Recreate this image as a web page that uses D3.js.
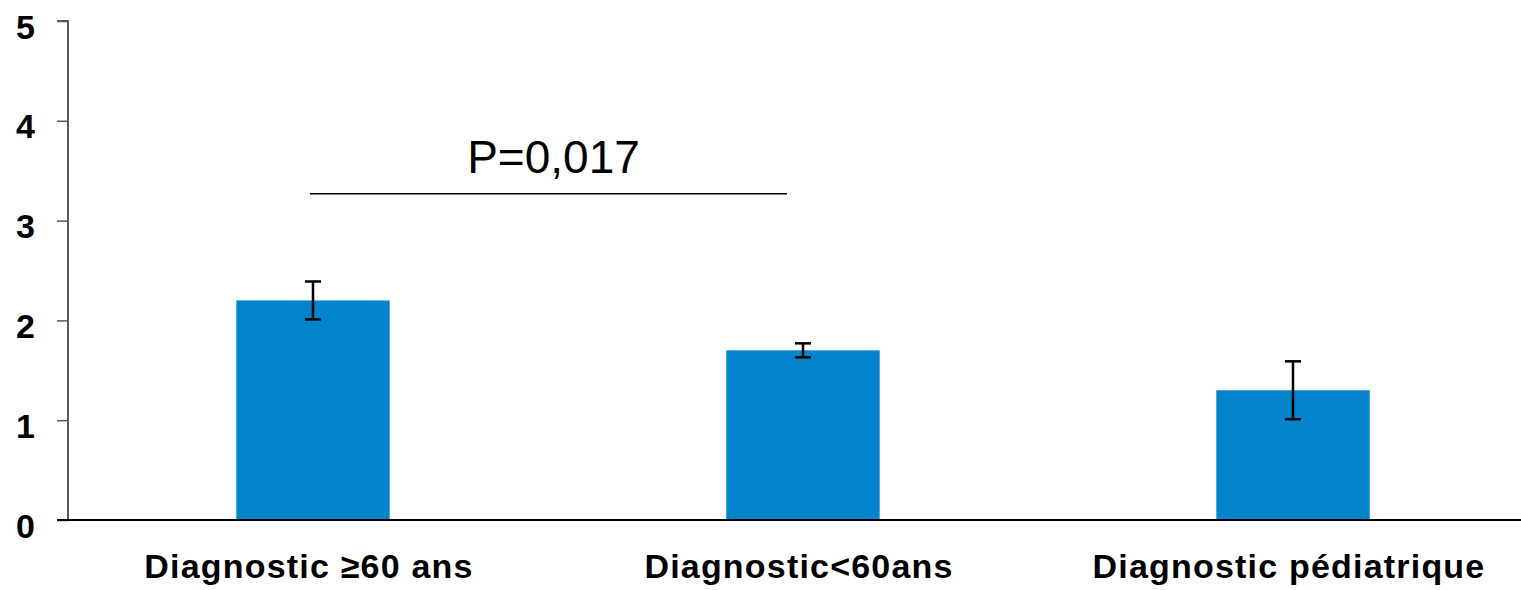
<!DOCTYPE html>
<html>
<head>
<meta charset="utf-8">
<script src="https://cdn.jsdelivr.net/npm/d3@7/dist/d3.min.js"></script>
<style>
  html, body { margin: 0; padding: 0; background: #fff; }
  svg { display: block; }
</style>
</head>
<body>
<svg id="chart" width="1521" height="590"></svg>
<script>
const categories = ["Diagnostic \u226560 ans", "Diagnostic<60ans", "Diagnostic p\u00e9diatrique"];
const values = [2.2, 1.7, 1.3];
const errors = [0.19, 0.07, 0.29];
const yTicks = [0, 1, 2, 3, 4, 5];
const pValueLabel = "P=0,017";
const pValueLevel = 3.27;

const svg = d3.select("#chart");
const x0 = 68, x1 = 1538, yTop = 21, yBot = 520;

const x = d3.scaleBand().domain(categories).range([x0, x1]).paddingInner(0).paddingOuter(0);
const y = d3.scaleLinear().domain([0, 5]).range([yBot, yTop]);
const barW = x.bandwidth() * 0.313;
const cx = d => x(d) + x.bandwidth() / 2;

// bars
svg.append("g").selectAll("rect").data(categories).join("rect")
  .attr("x", d => cx(d) - barW / 2)
  .attr("y", (d, i) => y(values[i]))
  .attr("width", barW)
  .attr("height", (d, i) => y(0) - y(values[i]))
  .attr("fill", "#0284CC");

// error bars
const eg = svg.append("g").attr("stroke", "#000").attr("stroke-width", 2.5);
categories.forEach((c, i) => {
  const xc = cx(c);
  eg.append("line").attr("x1", xc).attr("x2", xc).attr("y1", y(values[i] + errors[i])).attr("y2", y(values[i] - errors[i]));
  eg.append("line").attr("x1", xc - 8).attr("x2", xc + 8).attr("y1", y(values[i] + errors[i])).attr("y2", y(values[i] + errors[i]));
  eg.append("line").attr("x1", xc - 8).attr("x2", xc + 8).attr("y1", y(values[i] - errors[i])).attr("y2", y(values[i] - errors[i]));
});

// y axis
const yAxis = svg.append("g").attr("transform", `translate(${x0},0)`)
  .call(d3.axisLeft(y).tickValues(yTicks).tickFormat(d3.format("d")).tickSize(11).tickPadding(22));
yAxis.select(".domain").attr("stroke", "#595959").attr("stroke-width", 2).attr("d", `M-11,${yTop}H0V${yBot}`);
yAxis.selectAll(".tick line").attr("stroke", "#595959").attr("stroke-width", 1.5);
yAxis.selectAll(".tick text")
  .attr("font-family", "'Liberation Sans', Arial, sans-serif")
  .attr("font-weight", "bold").attr("font-size", 34).attr("fill", "#000")
  .attr("dy", "0.5em");

// x axis
const xAxis = svg.append("g").attr("transform", `translate(0,${yBot})`)
  .call(d3.axisBottom(x).tickSize(0).tickPadding(34));
xAxis.select(".domain").attr("stroke", "#000").attr("stroke-width", 2).attr("d", `M${x0 - 11},0H1521`);
xAxis.selectAll(".tick text")
  .attr("font-family", "'Liberation Sans', Arial, sans-serif")
  .attr("font-weight", "bold").attr("font-size", 34).attr("fill", "#000")
  .attr("letter-spacing", 1.2).attr("dx", -4);

// significance annotation
const sx1 = cx(categories[0]) - 3, sx2 = cx(categories[1]) - 16;
svg.append("line").attr("x1", sx1).attr("x2", sx2)
  .attr("y1", y(pValueLevel)).attr("y2", y(pValueLevel))
  .attr("stroke", "#000").attr("stroke-width", 1.5);
svg.append("text").attr("x", (sx1 + sx2) / 2 + 5).attr("y", 173)
  .attr("text-anchor", "middle")
  .attr("font-family", "'Liberation Sans', Arial, sans-serif")
  .attr("font-size", 46).attr("fill", "#000")
  .text(pValueLabel);
</script>
</body>
</html>
